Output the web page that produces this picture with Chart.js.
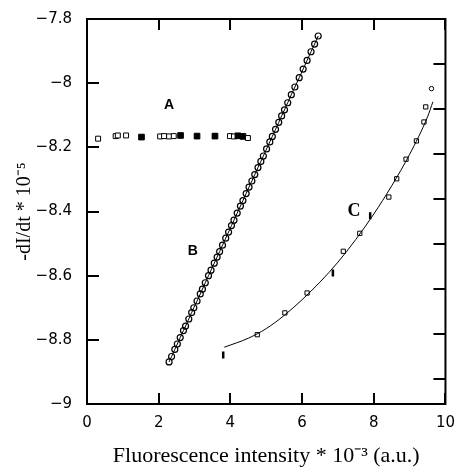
<!DOCTYPE html>
<html>
<head>
<meta charset="utf-8">
<script src="https://cdn.jsdelivr.net/npm/chart.js@4/dist/chart.umd.min.js"></script>
<style>
  html, body { margin: 0; padding: 0; background: #fff; }
  canvas { display: block; }
</style>
</head>
<body>
<canvas id="c" width="457" height="468"></canvas>
<script>
// ---- Data ----
const xTicks = [0, 2, 4, 6, 8, 10];
const xTickLabels = ['0', '2', '4', '6', '8', '10'];
const yTicks = [-9, -8.8, -8.6, -8.4, -8.2, -8, -7.8];
const yTickLabels = ['\u22129', '\u22128.8', '\u22128.6', '\u22128.4', '\u22128.2', '\u22128', '\u22127.8'];
const y2Ticks = [0, 1, 2, 3, 4, 5, 6, 7, 8];

// Series A (squares, flat)
const aX = [0.31, 0.80, 0.86, 1.09, 1.52, 2.04, 2.15, 2.29, 2.42, 2.61, 3.07, 3.57, 3.99, 4.10, 4.21, 4.35, 4.49];
const aY = [-8.173, -8.165, -8.163, -8.163, -8.168, -8.166, -8.165, -8.166, -8.165, -8.163, -8.165, -8.165, -8.165, -8.166, -8.164, -8.166, -8.171];

// Series B (circles, straight line)
const bX = [2.29, 2.36, 2.45, 2.52, 2.60, 2.69, 2.75, 2.84, 2.92, 2.98, 3.07, 3.16, 3.22, 3.30, 3.39, 3.46, 3.55,
            3.63, 3.70, 3.78, 3.87, 3.95, 4.03, 4.10, 4.19, 4.28, 4.35, 4.44, 4.52, 4.60, 4.68, 4.77, 4.85,
            4.92, 5.01, 5.10, 5.17, 5.26, 5.35, 5.43, 5.51, 5.60, 5.70, 5.80, 5.92, 6.03, 6.14, 6.25, 6.35, 6.45];
const bY = [-8.869, -8.852, -8.830, -8.813, -8.793, -8.771, -8.757, -8.735, -8.715, -8.700, -8.679, -8.657, -8.642,
            -8.622, -8.600, -8.583, -8.561, -8.542, -8.525, -8.505, -8.483, -8.464, -8.444, -8.427, -8.405, -8.383,
            -8.366, -8.344, -8.324, -8.305, -8.285, -8.263, -8.244, -8.227, -8.205, -8.183, -8.166, -8.144, -8.122,
            -8.102, -8.083, -8.061, -8.036, -8.012, -7.983, -7.956, -7.929, -7.902, -7.878, -7.853];

// Series C (markers) and its fitted curve
const cX = [3.80, 4.75, 5.52, 6.14, 6.86, 7.15, 7.61, 7.90, 8.42, 8.64, 8.90, 9.19, 9.40, 9.45, 9.61];
const cY = [-8.847, -8.784, -8.716, -8.654, -8.592, -8.524, -8.468, -8.413, -8.355, -8.298, -8.237, -8.180, -8.121, -8.074, -8.017];
const cFitX = [3.83, 4.5, 5.0, 5.5, 6.0, 6.5, 7.0, 7.5, 8.0, 8.5, 9.0, 9.5, 9.65];
const cFitY = [-8.823, -8.795, -8.765, -8.724, -8.675, -8.620, -8.558, -8.487, -8.408, -8.320, -8.222, -8.105, -8.058];

// Curve labels
const curveLabels = ['A', 'B', 'C'];
const labelX = [2.29, 2.95, 7.45];
const labelY = [-8.069, -8.522, -8.400];

const xy = (xs, ys) => xs.map((v, i) => ({ x: v, y: ys[i] }));

const aFilled = new Set([4, 9, 10, 11, 14, 15]);
const cBars = new Set([0, 4, 7]);

const framePlugin = {
  id: 'frame',
  beforeDatasetsDraw(chart) {
    const { ctx, chartArea: { left, right, top, bottom }, scales: { x, y, y2 } } = chart;
    ctx.save();
    ctx.strokeStyle = '#000';
    ctx.lineWidth = 2;
    ctx.strokeRect(left, top, right - left, bottom - top);
    ctx.beginPath();
    x.ticks.forEach(t => {
      const px = Math.round(x.getPixelForValue(t.value));
      ctx.moveTo(px, bottom); ctx.lineTo(px, bottom - 11);
      ctx.moveTo(px, top); ctx.lineTo(px, top + 11);
    });
    y.ticks.forEach(t => {
      const py = Math.round(y.getPixelForValue(t.value));
      ctx.moveTo(left, py); ctx.lineTo(left + 12, py);
    });
    y2.ticks.forEach(t => {
      const py = Math.round(y2.getPixelForValue(t.value));
      ctx.moveTo(right, py); ctx.lineTo(right - 12, py);
    });
    ctx.stroke();
    ctx.restore();
  }
};

const labelPlugin = {
  id: 'curveLabels',
  afterDatasetsDraw(chart) {
    const { ctx, scales: { x, y } } = chart;
    ctx.save();
    ctx.fillStyle = '#000';
    ctx.textAlign = 'center';
    ctx.textBaseline = 'middle';
    curveLabels.forEach((t, i) => {
      ctx.font = (t === 'C') ? 'bold 18px "Liberation Serif"' : 'bold 14px "Liberation Sans"';
      ctx.fillText(t, x.getPixelForValue(labelX[i]), y.getPixelForValue(labelY[i]));
    });
    ctx.restore();
  }
};

new Chart(document.getElementById('c'), {
  type: 'scatter',
  data: {
    datasets: [
      {
        data: xy(aX, aY),
        pointStyle: 'rect',
        pointRadius: ctx => aFilled.has(ctx.dataIndex) ? 4 : 3.5,
        pointBorderWidth: 1,
        pointBorderColor: '#000',
        pointBackgroundColor: ctx => aFilled.has(ctx.dataIndex) ? '#000' : '#fff',
        showLine: false
      },
      {
        data: xy(bX, bY),
        showLine: true,
        borderColor: '#000',
        borderWidth: 1,
        pointStyle: 'circle',
        pointRadius: 3,
        pointBorderWidth: 1.2,
        pointBorderColor: '#000',
        pointBackgroundColor: 'rgba(0,0,0,0)'
      },
      {
        data: xy(cFitX, cFitY),
        showLine: true,
        borderColor: '#000',
        borderWidth: 1,
        cubicInterpolationMode: 'monotone',
        pointRadius: 0
      },
      {
        data: xy(cX, cY),
        showLine: false,
        pointStyle: ctx => cBars.has(ctx.dataIndex) ? 'line' : (ctx.dataIndex === cX.length - 1 ? 'circle' : 'rect'),
        pointRotation: ctx => cBars.has(ctx.dataIndex) ? 90 : 0,
        pointRadius: ctx => cBars.has(ctx.dataIndex) ? 3.5 : (ctx.dataIndex === cX.length - 1 ? 2.2 : 3),
        pointBorderWidth: ctx => cBars.has(ctx.dataIndex) ? 2.5 : 1,
        pointBorderColor: '#000',
        pointBackgroundColor: '#fff'
      }
    ]
  },
  options: {
    responsive: false,
    animation: false,
    devicePixelRatio: 1,
    layout: { padding: { top: 19, right: 7, left: 0, bottom: 0 } },
    plugins: { legend: { display: false }, tooltip: { enabled: false } },
    elements: { line: { tension: 0 } },
    scales: {
      x: {
        type: 'linear',
        min: 0, max: 10,
        afterBuildTicks: s => { s.ticks = xTicks.map(v => ({ value: v })); },
        afterFit: s => { s.height = 64; },
        grid: { display: false },
        border: { display: false },
        ticks: {
          padding: 2,
          color: '#000',
          font: { family: 'DejaVu Sans', size: 15 },
          maxRotation: 0,
          callback: (v, i) => xTickLabels[i]
        },
        title: {
          display: true,
          text: 'Fluorescence intensity * 10\u207B\u00B3 (a.u.)',
          color: '#000',
          font: { family: 'Liberation Serif', size: 22 },
          padding: { top: 0, bottom: -1 }
        }
      },
      y: {
        type: 'linear',
        position: 'left',
        min: -9, max: -7.8,
        afterBuildTicks: s => { s.ticks = yTicks.map(v => ({ value: v })); },
        afterFit: s => { s.width = 87; },
        grid: { display: false },
        border: { display: false },
        ticks: {
          padding: 7,
          color: '#000',
          font: { family: 'DejaVu Sans', size: 15 },
          callback: (v, i) => yTickLabels[i]
        },
        title: {
          display: true,
          text: '-dI/dt * 10\u207B\u2075',
          color: '#000',
          font: { family: 'Liberation Serif', size: 20 },
          padding: { top: 13, bottom: 0 }
        }
      },
      y2: {
        type: 'linear',
        position: 'right',
        reverse: true,
        min: 0, max: 8.556,
        afterBuildTicks: s => { s.ticks = y2Ticks.map(v => ({ value: v })); },
        afterFit: s => { s.width = 0; },
        grid: { display: false },
        border: { display: false },
        ticks: { display: false }
      }
    }
  },
  plugins: [framePlugin, labelPlugin]
});
</script>
</body>
</html>
